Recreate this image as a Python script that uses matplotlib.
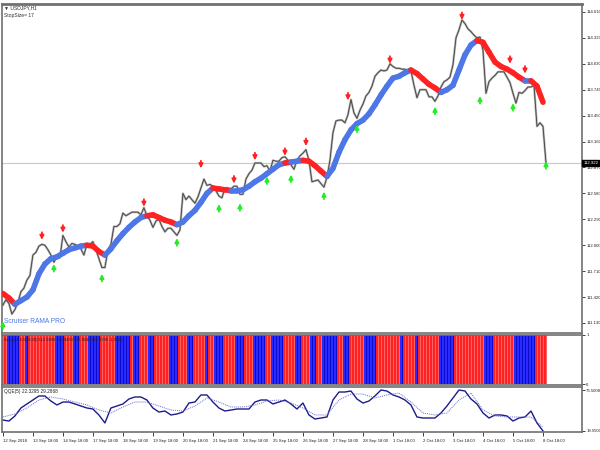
import numpy as np
import matplotlib
matplotlib.use("Agg")
import matplotlib.pyplot as plt
import matplotlib.transforms as mtransforms
from matplotlib.collections import LineCollection

plt.rcParams['font.family'] = ['Liberation Sans', 'DejaVu Sans']

# USDJPY H1 closes (one sample per chart step)
close = [111.33, 111.39, 111.35, 111.23, 111.28, 111.36, 111.48, 111.52, 111.61, 111.66,
         111.89, 111.92, 111.99, 112.01, 112.00, 111.95, 111.89, 111.81, 111.87, 111.86,
         112.11, 112.04, 111.98, 112.02, 112.01, 111.99, 111.96, 111.89, 112.01, 112.01,
         112.04, 111.95, 111.85, 111.75, 111.75, 111.95, 112.01, 112.21, 112.21, 112.24,
         112.36, 112.33, 112.35, 112.37, 112.37, 112.37, 112.34, 112.42, 112.33, 112.28,
         112.20, 112.27, 112.29, 112.21, 112.15, 112.19, 112.19, 112.15, 112.11, 112.17,
         112.58, 112.51, 112.55, 112.51, 112.47, 112.54, 112.64, 112.74, 112.67, 112.68,
         112.66, 112.61, 112.55, 112.53, 112.64, 112.64, 112.63, 112.66, 112.66, 112.57,
         112.57, 112.74, 112.80, 112.84, 112.92, 112.92, 112.92, 112.88, 112.89, 112.83,
         112.95, 112.94, 112.94, 112.98, 112.99, 112.95, 112.90, 112.85, 112.95, 113.00,
         113.03, 113.07, 112.95, 112.71, 112.72, 112.73, 112.69, 112.65, 112.76, 112.95,
         113.26, 113.39, 113.40, 113.40, 113.37, 113.46, 113.63, 113.48, 113.42, 113.51,
         113.58, 113.67, 113.71, 113.78, 113.89, 113.93, 113.96, 113.95, 113.96, 114.03,
         114.00, 113.98, 113.98, 113.97, 113.97, 113.95, 113.95, 113.79, 113.65, 113.74,
         113.74, 113.74, 113.66, 113.66, 113.61, 113.67, 113.77, 113.83, 113.85, 113.88,
         114.02, 114.32, 114.41, 114.52, 114.48, 114.42, 114.39, 114.35, 114.32, 114.33,
         114.18, 113.70, 113.83, 113.87, 113.90, 113.94, 113.94, 113.94, 113.88, 113.82,
         113.70, 113.59, 113.71, 113.70, 113.73, 113.77, 113.77, 113.79, 113.33, 113.37,
         113.33, 112.92]

# RAMA line, every 2nd step, and its trend (1 up = blue, -1 down = red)
rama = [111.46, 111.41, 111.34, 111.38, 111.42, 111.50, 111.68, 111.79, 111.85, 111.87,
        111.91, 111.95, 111.97, 111.99, 112.00, 111.99, 111.93, 111.89, 111.96, 112.05,
        112.13, 112.20, 112.26, 112.31, 112.33, 112.34, 112.31, 112.28, 112.26, 112.23,
        112.26, 112.33, 112.39, 112.48, 112.58, 112.64, 112.63, 112.62, 112.61, 112.61,
        112.62, 112.66, 112.71, 112.75, 112.80, 112.85, 112.90, 112.92, 112.93, 112.94,
        112.95, 112.94, 112.89, 112.83, 112.77, 112.86, 113.04, 113.18, 113.29, 113.36,
        113.40, 113.47, 113.57, 113.68, 113.78, 113.87, 113.89, 113.93, 113.96, 113.92,
        113.86, 113.80, 113.76, 113.71, 113.74, 113.79, 113.96, 114.13, 114.24, 114.29,
        114.27, 114.16, 114.05, 114.00, 113.97, 113.93, 113.88, 113.84, 113.84, 113.78,
        113.60]
trend = ([-1] * 3 + [1] * 12 + [-1] * 3 + [1] * 7 + [-1] * 5 + [1] * 6 + [-1] * 3 + [1] * 9
         + [-1] * 1 + [1] * 2 + [-1] * 4 + [1] * 14 + [-1] * 5 + [1] * 6 + [-1] * 8 + [1] * 1 + [-1] * 2)

# signal arrows (step, price)
sell_bar = [13, 20, 47, 66, 77, 84, 94, 101, 115, 129, 153, 169, 174]
sell_px = [112.10, 112.18, 112.47, 112.90, 112.73, 112.99, 113.04, 113.15, 113.66, 114.07, 114.56, 114.07, 113.96]
buy_bar = [0, 17, 33, 58, 72, 79, 88, 96, 107, 118, 144, 159, 170, 181]
buy_px = [111.11, 111.75, 111.64, 112.04, 112.42, 112.43, 112.73, 112.75, 112.56, 113.31, 113.51, 113.63, 113.55, 112.90]

# swing histogram: runs of (colour, length)
swing_runs = [('R', 2), ('B', 4), ('R', 2), ('B', 1), ('R', 9), ('B', 3), ('R', 3), ('B', 2), ('R', 3), ('B', 4),
              ('R', 5), ('B', 5), ('R', 1), ('B', 2), ('R', 3), ('B', 2), ('R', 5), ('B', 3), ('R', 3), ('B', 2),
              ('R', 4), ('B', 1), ('R', 2), ('B', 3), ('R', 4), ('B', 3), ('R', 3), ('B', 4), ('R', 2), ('B', 4),
              ('R', 4), ('B', 2), ('R', 3), ('B', 2), ('R', 2), ('B', 5), ('R', 2), ('B', 2), ('R', 5), ('B', 4),
              ('R', 8), ('B', 1), ('R', 4), ('B', 1), ('R', 7), ('B', 5), ('R', 10), ('B', 3), ('R', 7), ('B', 7),
              ('R', 4)]

# QQE(5): main line every 2nd step, signal line every 4th step
qqe_main = [34.8, 33.4, 40.4, 51.5, 57.1, 62.6, 68.2, 68.2, 61.2, 55.7,
            59.8, 59.8, 57.1, 54.3, 51.5, 50.1, 41.8, 30.7, 51.5, 54.3,
            57.1, 64.0, 66.8, 66.8, 62.6, 51.5, 45.9, 47.3, 41.8, 43.2,
            45.9, 58.4, 59.8, 69.6, 69.6, 59.8, 51.5, 47.3, 48.7, 50.1,
            50.1, 50.1, 59.8, 62.6, 62.6, 57.1, 59.8, 62.6, 57.1, 50.1,
            58.4, 41.8, 36.2, 37.6, 39.0, 62.6, 73.7, 73.7, 75.1, 64.0,
            58.4, 61.2, 68.2, 76.5, 75.1, 69.6, 66.8, 62.6, 55.7, 39.0,
            37.6, 37.6, 37.6, 44.6, 54.3, 65.4, 76.5, 75.1, 64.0, 57.1,
            44.6, 37.6, 41.8, 41.8, 40.4, 33.4, 37.6, 39.0, 47.3, 30.7,
            19.6]
qqe_signal = [39.0, 43.2, 51.5, 62.6, 66.8, 64.0, 59.8, 55.7, 48.7, 44.6,
              52.9, 59.8, 59.8, 54.3, 48.7, 47.3, 54.3, 65.4, 59.8, 52.9,
              52.9, 55.7, 61.2, 62.6, 58.4, 51.5, 41.8, 41.8, 62.6, 70.9,
              70.9, 65.4, 69.6, 72.3, 59.8, 44.6, 41.8, 44.6, 62.6, 72.3,
              48.7, 40.4, 39.0, 39.0, 39.0, 25.1]

price_ticks = [114.610, 114.320, 114.030, 113.740, 113.450, 113.160, 112.870,
               112.580, 112.290, 112.000, 111.710, 111.420, 111.130]
last_price = 112.922
date_labels = ['12 Sep 2018', '13 Sep 18:00', '14 Sep 18:00', '17 Sep 18:00', '18 Sep 18:00',
               '19 Sep 18:00', '20 Sep 18:00', '21 Sep 18:00', '24 Sep 18:00', '25 Sep 18:00',
               '26 Sep 18:00', '27 Sep 18:00', '28 Sep 18:00', '1 Oct 18:00', '2 Oct 18:00',
               '3 Oct 18:00', '4 Oct 18:00', '5 Oct 18:00', '8 Oct 18:00']

RED = '#ff2222'
BLUE = '#4d76e6'
FRAME = '#707070'
FS = 3.1
W, H = 600, 450

fig = plt.figure(figsize=(6, 4.5), dpi=100)
fig.patch.set_facecolor('white')


def panel(y0, y1):
    a = fig.add_axes([2 / W, 1 - y1 / H, 580 / W, (y1 - y0) / H])
    a.set_xlim(-0.3, 193.0)
    for s in a.spines.values():
        s.set_color(FRAME)
        s.set_linewidth(1.2)
    a.yaxis.tick_right()
    a.tick_params(axis='y', length=2, width=0.6, pad=1, labelsize=FS, colors='#202020')
    a.set_xticks([])
    return a


ax = panel(4, 333)
ax2 = panel(335, 385)
ax3 = panel(387, 432)
ax.spines['top'].set_linewidth(2)

# main price panel
bars = np.arange(len(close))
ax.axhline(last_price, color='#c8c8c8', lw=0.8, zorder=1)
ax.plot(bars, close, color='#b0b0b0', lw=1.6, zorder=2)
ax.plot(bars, close, color='#404040', lw=0.6, zorder=3)

rx = np.arange(len(rama)) * 2
pts = np.column_stack([rx, rama])
segs = np.stack([pts[:-1], pts[1:]], axis=1)
seg_col = [RED if t < 0 else BLUE for t in trend[1:]]
ax.add_collection(LineCollection(segs, colors=seg_col, linewidths=4.0, capstyle='round', zorder=4))

for b, p in zip(sell_bar, sell_px):
    ax.annotate('', xy=(b, p - 0.04), xytext=(b, p + 0.045),
                arrowprops=dict(arrowstyle='-|>', color=RED, lw=1.3, mutation_scale=6,
                                shrinkA=0, shrinkB=0), zorder=5)
for b, p in zip(buy_bar, buy_px):
    ax.annotate('', xy=(b, p + 0.04), xytext=(b, p - 0.045),
                arrowprops=dict(arrowstyle='-|>', color='#22ee22', lw=1.3, mutation_scale=6,
                                shrinkA=0, shrinkB=0), zorder=5)

ax.set_ylim(111.018, 114.699)
ax.set_yticks(price_ticks)
ax.set_yticklabels(['%.3f' % v for v in price_ticks])

tr = mtransforms.blended_transform_factory(ax.transAxes, ax.transData)
ax.text(1.002, last_price, '%.3f' % last_price, transform=tr, fontsize=FS, color='white',
        va='center', ha='left', bbox=dict(boxstyle='square,pad=0.2', fc='black', ec='black'), zorder=6)

ax.text(0.004, 0.995, '\u25bc USDJPY,H1', transform=ax.transAxes, fontsize=3.6, color='#303030', va='top')
ax.text(0.004, 0.972, 'StopSize= 17', transform=ax.transAxes, fontsize=3.6, color='#303030', va='top')
ax.text(0.004, 0.035, 'Scruiser RAMA PRO', transform=ax.transAxes, fontsize=4.8, color=BLUE, va='center')

# swing histogram panel
sw_col = []
for c, n in swing_runs:
    sw_col += [c] * n
sb = np.arange(len(sw_col))
ax2.bar(sb, 1.0, width=1.0, color=[RED if c == 'R' else '#2a2aff' for c in sw_col], linewidth=0)
ax2.vlines(sb, 0, 1.0, colors=['#ff8080' if c == 'R' else '#0000b0' for c in sw_col], lw=0.5)
ax2.set_ylim(-0.02, 1.0)
ax2.set_yticks([0, 1])
ax2.set_yticklabels(['0', '1'])
ax2.text(0.004, 0.93, 'Swing(4,8,50,8,30) 112.9490 112.9490 112.8040 112.9790 -1.0000',
         transform=ax2.transAxes, fontsize=2.9, color='#202020', va='top')

# QQE panel
ax3.plot(np.arange(len(qqe_main)) * 2, qqe_main, color='#1c1c8a', lw=1.0)
ax3.plot(np.arange(len(qqe_signal)) * 4, qqe_signal, color='#6a6ad0', lw=0.7, ls=(0, (1, 1)))
ax3.set_ylim(18.16, 80.67)
ax3.set_yticks([19.55, 76.5008])
ax3.set_yticklabels(['19.5500', '76.5008'])
ax3.text(0.004, 0.95, 'QQE(5) 22.3295 29.2868', transform=ax3.transAxes, fontsize=3.4,
         color='#202020', va='top')
ax3.set_xticks(np.arange(len(date_labels)) * 10)
ax3.set_xticklabels(date_labels)
ax3.tick_params(axis='x', length=3, width=0.6, pad=2, labelsize=FS, colors='#202020')
for lbl in ax3.get_xticklabels():
    lbl.set_horizontalalignment('left')

fig.savefig('out.png', dpi=100)
